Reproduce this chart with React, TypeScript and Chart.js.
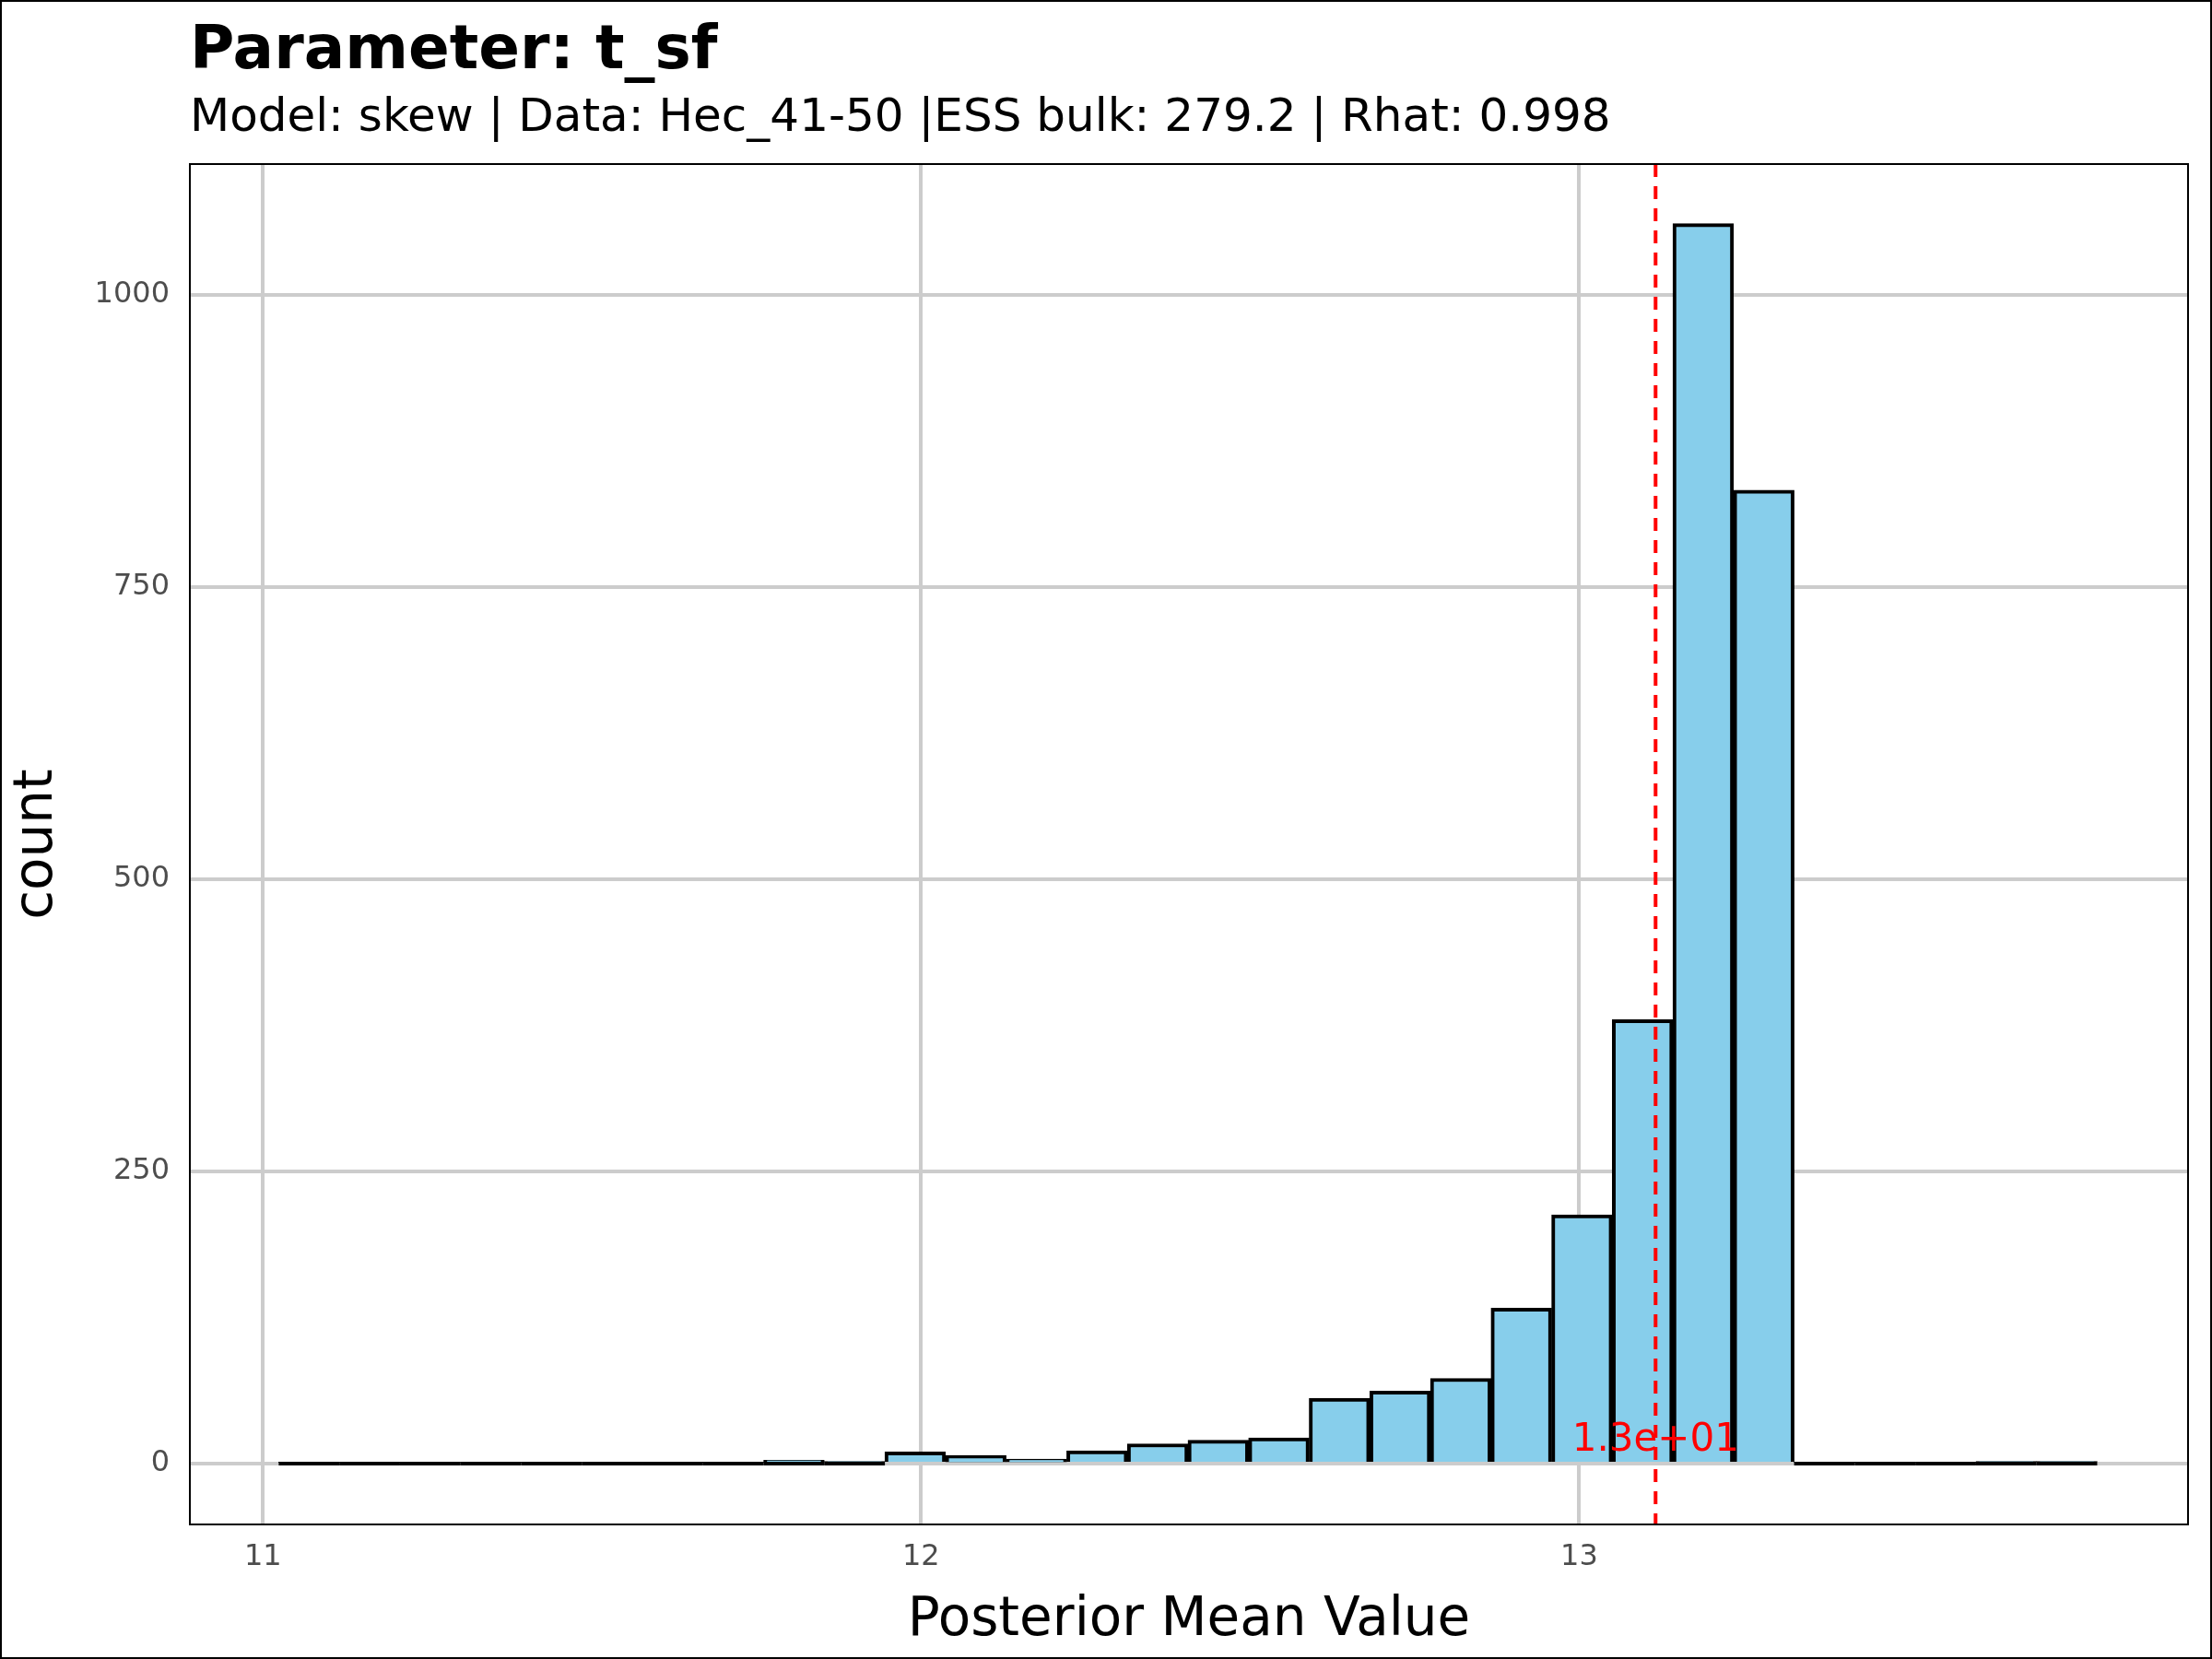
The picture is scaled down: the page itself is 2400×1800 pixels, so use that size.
import { useEffect, useRef } from "react";
import { Chart, registerables } from "chart.js";

Chart.register(...registerables);

const binStart = 11.024;
const binWidth = 0.0921;
const counts = [
  1, 0, 0, 1, 0, 0, 1, 1, 3, 2, 10, 7, 4, 11, 17, 20, 22, 56, 62, 73, 133, 213,
  380, 1061, 833, 1, 1, 0, 2, 2,
];
const xTicks = [11, 12, 13];
const yTicks = [0, 250, 500, 750, 1000];
const meanValue = 13.116;
const meanLabel = "1.3e+01";
const titleText = "Parameter: t_sf";
const subtitleText = "Model: skew | Data: Hec_41-50 |ESS bulk: 279.2 | Rhat: 0.998";

const FONT = "'DejaVu Sans', sans-serif";

const decorations = {
  id: "decorations",
  afterDatasetsDraw(chart: Chart) {
    const { ctx, chartArea, scales } = chart;
    const x = scales.x.getPixelForValue(meanValue);
    const y0 = scales.y.getPixelForValue(0);
    ctx.save();
    // zero-height bins drawn as flat outlines, like the reference
    ctx.strokeStyle = "#000";
    ctx.lineWidth = 4;
    counts.forEach((c, i) => {
      if (c > 3) return;
      const l = scales.x.getPixelForValue(binStart + binWidth * i);
      const r = scales.x.getPixelForValue(binStart + binWidth * (i + 1));
      ctx.beginPath();
      ctx.moveTo(l, y0);
      ctx.lineTo(r, y0);
      ctx.stroke();
    });
    ctx.strokeStyle = "#ff0000";
    ctx.lineWidth = 4;
    ctx.setLineDash([14, 10]);
    ctx.beginPath();
    ctx.moveTo(x, chartArea.top);
    ctx.lineTo(x, chartArea.bottom);
    ctx.stroke();
    ctx.setLineDash([]);
    ctx.fillStyle = "#ff0000";
    ctx.font = `42px ${FONT}`;
    ctx.textAlign = "center";
    ctx.textBaseline = "bottom";
    ctx.fillText(meanLabel, x, y0 - 4);
    ctx.strokeStyle = "#000";
    ctx.lineWidth = 2;
    ctx.strokeRect(chartArea.left, chartArea.top, chartArea.right - chartArea.left, chartArea.bottom - chartArea.top);
    ctx.fillStyle = "#000";
    ctx.textAlign = "left";
    ctx.textBaseline = "alphabetic";
    ctx.font = `bold 66px ${FONT}`;
    ctx.fillText(titleText, chartArea.left, 72);
    ctx.font = `50px ${FONT}`;
    ctx.fillText(subtitleText, chartArea.left, 140);
    ctx.restore();
  },
};

export default function App() {
  const ref = useRef<HTMLCanvasElement | null>(null);
  useEffect(() => {
    document.body.style.margin = "0";
    if (!ref.current) return;
    const data = counts.map((c, i) => ({ x: binStart + binWidth * (i + 0.5), y: c }));
    const chart = new Chart(ref.current, {
      type: "bar",
      data: {
        datasets: [
          {
            data,
            backgroundColor: "#87CEEB",
            borderColor: "#000000",
            borderWidth: 4,
            barPercentage: 1,
            categoryPercentage: 1,
          },
        ],
      },
      options: {
        animation: false,
        responsive: false,
        layout: { padding: { top: 176, right: 24, left: 0, bottom: 0 } },
        plugins: { legend: { display: false }, tooltip: { enabled: false } },
        scales: {
          x: {
            type: "linear",
            offset: false,
            min: 10.889,
            max: 13.925,
            afterBuildTicks: (s) => {
              s.ticks = xTicks.map((v) => ({ value: v }));
            },
            afterFit: (s) => {
              s.height = 144;
            },
            grid: { color: "#cccccc", lineWidth: 4, drawTicks: false, offset: false },
            border: { display: false },
            ticks: { color: "#4d4d4d", font: { family: FONT, size: 32 }, padding: 16, callback: (v) => String(v) },
            title: {
              display: true,
              text: "Posterior Mean Value",
              color: "#000",
              font: { family: FONT, size: 58 },
              padding: { top: 4 },
            },
          },
          y: {
            min: -52,
            max: 1112,
            afterBuildTicks: (s) => {
              s.ticks = yTicks.map((v) => ({ value: v }));
            },
            afterFit: (s) => {
              s.width = 204;
            },
            grid: { color: "#cccccc", lineWidth: 4, drawTicks: false },
            border: { display: false },
            ticks: { color: "#4d4d4d", font: { family: FONT, size: 32 }, padding: 22, callback: (v) => String(v) },
            title: {
              display: true,
              text: "count",
              color: "#000",
              font: { family: FONT, size: 58 },
              padding: { bottom: 24 },
            },
          },
        },
      },
      plugins: [decorations],
    });
    return () => chart.destroy();
  }, []);
  return (
    <div style={{ width: 2400, height: 1800, boxSizing: "border-box", border: "2px solid #000", background: "#fff" }}>
      <canvas ref={ref} width={2396} height={1796} style={{ display: "block" }} />
    </div>
  );
}
